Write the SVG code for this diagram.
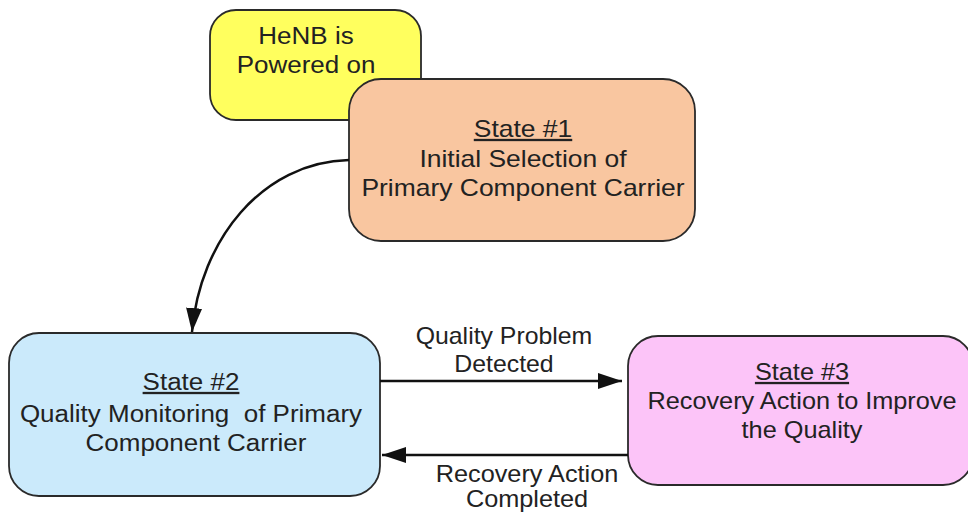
<svg xmlns="http://www.w3.org/2000/svg" width="968" height="521" viewBox="0 0 968 521">
  <style>
    .box { stroke: #2a2a2a; stroke-width: 1.8; }
    .t { font-family: "Liberation Sans", Arial, sans-serif; font-size: 23px; fill: #222; text-anchor: middle; }
    .u { text-decoration: underline; }
    .conn { fill: none; stroke: #111; stroke-width: 2.5; }
  </style>
  <defs>
    <marker id="arr" markerUnits="userSpaceOnUse" markerWidth="26" markerHeight="16" refX="24" refY="8" orient="auto">
      <path d="M0,0 L24,8 L0,16 z" fill="#111"/>
    </marker>
  </defs>
  <rect width="968" height="521" fill="#ffffff"/>

  <g id="node-henb">
    <rect class="box" x="210" y="10" width="211" height="110" rx="26" ry="26" fill="#FFFF5E"/>
    <g transform="translate(306,0) scale(1.13,1)">
      <text class="t" x="0" y="44">HeNB is</text>
      <text class="t" x="0" y="73">Powered on</text>
    </g>
  </g>

  <g id="node-state1">
    <rect class="box" x="349" y="79" width="346" height="162" rx="32" ry="32" fill="#F9C6A0"/>
    <g transform="translate(523,0) scale(1.15,1)">
      <text class="t u" x="0" y="137">State #1</text>
      <text class="t" x="0" y="167">Initial Selection of</text>
      <text class="t" x="0" y="196">Primary Component Carrier</text>
    </g>
  </g>

  <g id="node-state2">
    <rect class="box" x="9" y="333" width="371" height="163" rx="30" ry="30" fill="#CBEAFB"/>
    <g transform="translate(191,0) scale(1.13,1)">
      <text class="t u" x="0" y="390">State #2</text>
      <text class="t" x="0" y="422" xml:space="preserve">Quality Monitoring  of Primary</text>
    </g>
    <g transform="translate(196,0) scale(1.13,1)">
      <text class="t" x="0" y="451">Component Carrier</text>
    </g>
  </g>

  <g id="node-state3">
    <rect class="box" x="628" y="336" width="345" height="149" rx="30" ry="30" fill="#FCC4F8"/>
    <g transform="translate(802,0) scale(1.1,1)">
      <text class="t u" x="0" y="380">State #3</text>
      <text class="t" x="0" y="409">Recovery Action to Improve</text>
      <text class="t" x="0" y="438">the Quality</text>
    </g>
  </g>

  <g id="connectors">
    <path class="conn" d="M349,160 C262,162 200,240 192,332" marker-end="url(#arr)"/>
    <line class="conn" x1="380" y1="381" x2="622" y2="381" marker-end="url(#arr)"/>
    <line class="conn" x1="628" y1="455" x2="382" y2="455" marker-end="url(#arr)"/>
    <g transform="translate(504,0) scale(1.08,1)">
      <text class="t" x="0" y="344">Quality Problem</text>
      <text class="t" x="0" y="372">Detected</text>
    </g>
    <g transform="translate(527,0) scale(1.1,1)">
      <text class="t" x="0" y="482">Recovery Action</text>
      <text class="t" x="0" y="507">Completed</text>
    </g>
  </g>
</svg>
